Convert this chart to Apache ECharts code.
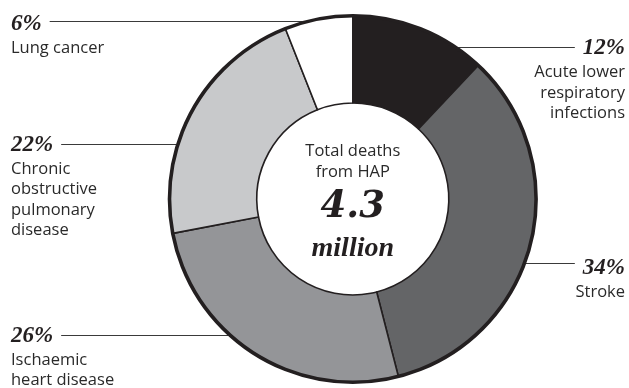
<!DOCTYPE html>
<html><head><meta charset="utf-8">
<script src="https://cdn.jsdelivr.net/npm/echarts@6/dist/echarts.min.js"></script>
<style>html,body{margin:0;padding:0;background:#fff}#c{width:629px;height:388px}</style>
</head><body><div id="c"></div>
<script>
// ---- data ----
const categories = ['Acute lower respiratory infections', 'Stroke', 'Ischaemic heart disease', 'Chronic obstructive pulmonary disease', 'Lung cancer'];
const labelLinesText = [['Acute lower', 'respiratory', 'infections'], ['Stroke'], ['Ischaemic', 'heart disease'], ['Chronic', 'obstructive', 'pulmonary', 'disease'], ['Lung cancer']];
const shares = [12, 34, 26, 22, 6];
const centerLines = ['Total deaths', 'from HAP'];
const totalValue = '4.3';
const totalUnit = 'million';

// ---- style / layout ----
const colors = ['#231f20', '#646567', '#949598', '#c8c9cb', '#ffffff'];
const INK = '#231f20';
const TXT = '#2a2a2a';
const CX = 352.8, CY = 199, R0 = 96, R = 183.3, R_EDGE = 184.5;
const pctCenterY = [48.3, 268.3, 336, 145, 24.2];
const leaderY = [47.5, 263.5, 335.5, 144.5, 21.5];
const LEFT_X = 11, RIGHT_X = 625, GAP = 8;
const PCT_LH = 28, NAME_LH = 20.5;
const PCT_FONT = 'italic bold 23px "Liberation Serif"';

const total = shares.reduce((a, b) => a + b, 0);
let acc = 0;
const isRight = shares.map(v => { const mid = (acc + v / 2) / total; acc += v; return mid < 0.5; });

const mctx = document.createElement('canvas').getContext('2d');
mctx.font = PCT_FONT;
function pctWidth(i) { return mctx.measureText(shares[i] + '%').width; }

const chart = echarts.init(document.getElementById('c'), null, { renderer: 'canvas' });
chart.setOption({
  animation: false,
  series: [
    {
      type: 'pie',
      center: [CX, CY],
      radius: [R0, R],
      startAngle: 90,
      clockwise: true,
      avoidLabelOverlap: false,
      silent: true,
      itemStyle: { borderColor: INK, borderWidth: 1.6 },
      data: shares.map((v, i) => ({ value: v, name: categories[i], itemStyle: { color: colors[i] } })),
      label: {
        show: true,
        position: 'outside',
        width: 160,
        overflow: 'none',
        formatter: p => {
          const i = p.dataIndex;
          const s = isRight[i] ? 'r' : 'l';
          return ['{p' + s + '|' + shares[i] + '%}'].concat(labelLinesText[i].map(t => '{n' + s + '|' + t + '}')).join('\n');
        },
        rich: {
          pl: { fontFamily: 'Liberation Serif', fontStyle: 'italic', fontWeight: 'bold', fontSize: 23, lineHeight: PCT_LH, color: INK, align: 'left' },
          pr: { fontFamily: 'Liberation Serif', fontStyle: 'italic', fontWeight: 'bold', fontSize: 23, lineHeight: PCT_LH, color: INK, align: 'right' },
          nl: { fontFamily: 'Open Sans', fontSize: 16.5, lineHeight: NAME_LH, color: TXT, align: 'left' },
          nr: { fontFamily: 'Open Sans', fontSize: 16.5, lineHeight: NAME_LH, color: TXT, align: 'right' }
        }
      },
      labelLine: { show: true, lineStyle: { color: '#3a3a3a', width: 1 } },
      labelLayout: function (p) {
        const i = p.dataIndex;
        const right = isRight[i];
        const ly = leaderY[i];
        const dy = ly - CY;
        const dx = Math.sqrt(Math.max(0, R_EDGE * R_EDGE - dy * dy));
        const w = pctWidth(i);
        const pts = right
          ? [[CX + dx, ly], [RIGHT_X - w - GAP, ly]]
          : [[CX - dx, ly], [LEFT_X + w + GAP, ly]];
        return {
          x: right ? RIGHT_X : LEFT_X,
          y: pctCenterY[i] - PCT_LH / 2,
          align: right ? 'right' : 'left',
          verticalAlign: 'top',
          labelLinePoints: pts
        };
      }
    },
    {
      type: 'pie',
      center: [CX, CY],
      radius: [0, R],
      startAngle: 90,
      silent: true,
      z: 3,
      itemStyle: { color: 'rgba(0,0,0,0)', borderColor: INK, borderWidth: 3.6 },
      data: [{ value: total, name: 'total' }],
      label: {
        show: true,
        position: 'center',
        padding: [8, 0, 0, 0],
        formatter: () => centerLines.map(t => '{a|' + t + '}').concat(['{b|' + totalValue + '}', '{c|' + totalUnit + '}']).join('\n'),
        rich: {
          a: { fontFamily: 'Open Sans', fontSize: 16.5, lineHeight: 21, color: TXT, align: 'center' },
          b: { fontFamily: 'DejaVu Serif', fontStyle: 'italic', fontWeight: 'bold', fontSize: 37, lineHeight: 49, color: INK, align: 'center' },
          c: { fontFamily: 'Liberation Serif', fontStyle: 'italic', fontWeight: 'bold', fontSize: 28, lineHeight: 33, color: INK, align: 'center' }
        }
      },
      labelLine: { show: false },
      emphasis: { disabled: true }
    }
  ]
});
</script>
</body></html>
